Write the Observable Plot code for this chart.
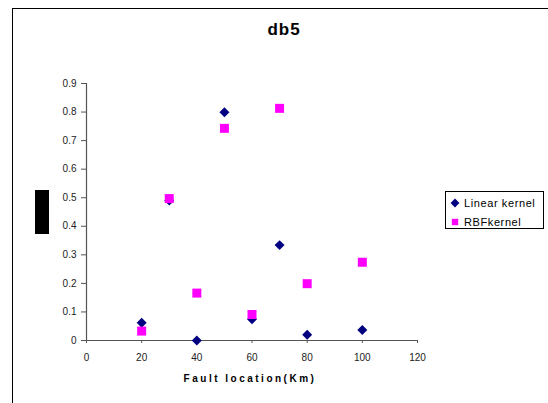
<!DOCTYPE html>
<html><head><meta charset="utf-8">
<script src="https://cdn.jsdelivr.net/npm/d3@7"></script>
<script src="https://cdn.jsdelivr.net/npm/@observablehq/plot@0.6"></script>
<style>
body{margin:0;background:#fff;font-family:Arial,"Liberation Sans",sans-serif;}
#wrap{position:relative;width:548px;height:403px;overflow:hidden;background:#fff}
#frame{position:absolute;left:12px;top:8px;width:600px;height:500px;border-left:1.5px solid #000;border-top:1.5px solid #000;}
#chart{position:absolute;left:0;top:0}
#title{position:absolute;left:234px;width:100px;top:20px;text-align:center;font-weight:bold;font-size:17px;letter-spacing:1px;color:#000}
#xlabel{position:absolute;left:150px;width:200px;top:373px;text-align:center;font-weight:bold;font-size:10px;letter-spacing:2.5px;color:#000}
#ylabel{position:absolute;left:35px;top:190px;width:14px;height:44px;background:#000}
#legend{position:absolute;left:445px;top:191px;width:99px;height:38px;border:1px solid #000;box-sizing:border-box;font-size:11px;color:#000}
.li{position:absolute;left:0;height:14px;display:flex;align-items:center}
.li svg{margin-left:4px;margin-right:4px}
</style></head>
<body>
<div id="wrap">
  <div id="frame"></div>
  <div id="chart"></div>
  <div id="title"></div>
  <div id="xlabel"></div>
  <div id="ylabel"></div>
  <div id="legend"></div>
</div>
<script>
const faultKm = [20, 30, 40, 50, 60, 70, 80, 100];
const linearKernel = [0.062, 0.49, 0, 0.799, 0.074, 0.334, 0.020, 0.037];
const rbfKernel = [0.033, 0.497, 0.166, 0.743, 0.091, 0.813, 0.199, 0.274];
const seriesNames = ["Linear kernel", "RBFkernel"];
const seriesColors = ["#000080", "#FF00FF"];
const xTicks = [0, 20, 40, 60, 80, 100, 120];
const yTicks = [0, 0.1, 0.2, 0.3, 0.4, 0.5, 0.6, 0.7, 0.8, 0.9];
const titleText = "db5";
const xLabelText = "Fault location(Km)";

const linData = faultKm.map((x, i) => ({x, y: linearKernel[i]}));
const rbfData = faultKm.map((x, i) => ({x, y: rbfKernel[i]}));

const chart = Plot.plot({
  width: 548, height: 403,
  marginLeft: 86, marginRight: 131, marginTop: 83, marginBottom: 63,
  style: {fontFamily: 'Arial,"Liberation Sans",sans-serif', fontSize: "10px", color: "#222", background: "transparent"},
  x: {domain: [0, 120]},
  y: {domain: [0, 0.9]},
  marks: [
    Plot.axisX({ticks: xTicks, tickSize: 3, tickPadding: 10, label: null, stroke: "#555", tickFormat: d => String(d)}),
    Plot.axisY({ticks: yTicks, tickSize: 5, tickPadding: 5, label: null, stroke: "#555", tickFormat: d => String(d)}),
    Plot.ruleY([0], {stroke: "#555", strokeWidth: 1.2}),
    Plot.ruleX([0], {stroke: "#555", strokeWidth: 1.2}),
    Plot.dot(linData, {x: "x", y: "y", symbol: "diamond2", r: 4.5, fill: seriesColors[0], stroke: "none"}),
    Plot.dot(rbfData, {x: "x", y: "y", symbol: "square", r: 5.08, fill: seriesColors[1], stroke: "none"})
  ]
});
document.getElementById("chart").appendChild(chart);
document.getElementById("title").textContent = titleText;
document.getElementById("xlabel").textContent = xLabelText;

const legend = document.getElementById("legend");
const syms = [d3.symbolDiamond2, d3.symbolSquare];
const sizes = [Math.PI * 4 * 4, Math.PI * 3.6 * 3.6];
seriesNames.forEach((name, i) => {
  const row = document.createElement("div");
  row.className = "li";
  row.style.top = (i === 0 ? 4 : 23) + "px";
  const svg = d3.create("svg").attr("width", 10).attr("height", 10);
  svg.append("path").attr("transform", "translate(5,5)").attr("d", d3.symbol(syms[i], sizes[i])()).attr("fill", seriesColors[i]);
  row.appendChild(svg.node());
  const span = document.createElement("span");
  span.textContent = name;
  span.style.letterSpacing = "0.6px";
  row.appendChild(span);
  legend.appendChild(row);
});
</script>
</body></html>
